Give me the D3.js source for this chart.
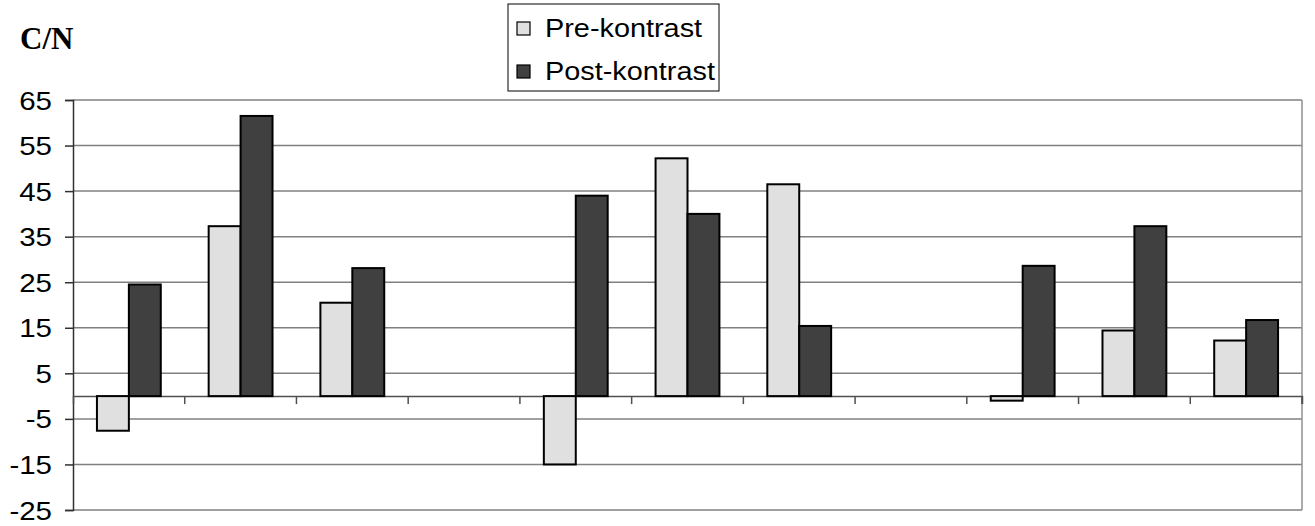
<!DOCTYPE html>
<html><head><meta charset="utf-8">
<script src="https://cdn.jsdelivr.net/npm/d3@7"></script>
<style>html,body{margin:0;padding:0;background:#fff;}svg{display:block;}</style>
</head><body>
<svg id="chart" width="1315" height="526"></svg>
<script>
const categories = ["1","2","3","4","5","6","7","8","9","10","11"];
const seriesNames = ["Pre-kontrast","Post-kontrast"];
const preValues  = [-7.6, 37.3, 20.5, null, -15.0, 52.2, 46.5, null, -1.0, 14.4, 12.2];
const postValues = [24.5, 61.5, 28.1, null, 44.0, 40.0, 15.4, null, 28.6, 37.3, 16.7];
const yTicks = [-25,-15,-5,5,15,25,35,45,55,65];
const yTitle = "C/N";

const colors = ["#e0e0e0","#404040"];
const svg = d3.select("#chart");
const L = 73, R = 1302, T = 100, B = 510;

const y = d3.scaleLinear().domain([-25,65]).range([B,T]);
const x = d3.scaleBand().domain(categories).range([L,R]).paddingInner(0).paddingOuter(0);
const xs = d3.scaleBand().domain(seriesNames).range([0,x.bandwidth()]).paddingInner(0).paddingOuter(0.75);

// gridlines
svg.append("g").selectAll("line").data(yTicks).join("line")
  .attr("x1",L).attr("x2",R).attr("y1",d=>y(d)).attr("y2",d=>y(d))
  .attr("stroke","#808080").attr("stroke-width",1.5);

// right border
svg.append("line").attr("x1",R).attr("x2",R).attr("y1",T).attr("y2",B)
  .attr("stroke","#909090").attr("stroke-width",1.5);

// y axis
const yAxis = d3.axisLeft(y).tickValues(yTicks).tickSize(8).tickPadding(13).tickFormat(d=>String(d));
const gy = svg.append("g").attr("transform",`translate(${L},0)`).call(yAxis);
gy.select(".domain").attr("stroke","#303030").attr("stroke-width",1.5);
gy.selectAll(".tick line").attr("stroke","#303030").attr("stroke-width",1.5);
gy.selectAll(".tick text")
  .attr("font-family","Liberation Sans, Arial, sans-serif")
  .attr("font-size",25).attr("fill","#000")
  .attr("dy","0.36em")
  .each(function(){
    const t=d3.select(this); const xx=+t.attr("x");
    t.attr("transform",`translate(${xx},0) scale(1.18,1) translate(${-xx},0)`);
  });

// zero axis with category ticks
const xAxis = d3.axisBottom(x).tickSize(8).tickFormat("");
const gx = svg.append("g").attr("transform",`translate(0,${y(0)})`).call(xAxis);
gx.select(".domain").attr("stroke","#505050").attr("stroke-width",1.5);
gx.selectAll(".tick").remove();
const boundaries = categories.map((c,i)=> x(c)+x.bandwidth()).slice(0,-1);
gx.selectAll("line.ct").data(boundaries).join("line").attr("class","ct")
  .attr("x1",d=>d).attr("x2",d=>d).attr("y1",0).attr("y2",8)
  .attr("stroke","#505050").attr("stroke-width",1.5);
gx.append("line").attr("x1",R).attr("x2",R).attr("y1",0).attr("y2",8)
  .attr("stroke","#505050").attr("stroke-width",1.5);

// bars
const rows = categories.map((c,i)=>({cat:c, vals:[preValues[i],postValues[i]]}));
const g = svg.append("g");
rows.forEach(r=>{
  r.vals.forEach((v,j)=>{
    if(v==null) return;
    g.append("rect")
      .attr("x", x(r.cat)+xs(seriesNames[j]))
      .attr("width", xs.bandwidth())
      .attr("y", y(Math.max(0,v)))
      .attr("height", Math.abs(y(v)-y(0)))
      .attr("fill", colors[j]).attr("stroke","#000").attr("stroke-width",2);
  });
});

// y title
svg.append("text").attr("x",20).attr("y",49).text(yTitle)
  .attr("font-family","Liberation Serif, Times New Roman, serif")
  .attr("font-weight","bold").attr("font-size",31).attr("fill","#000");

// legend
const lg = svg.append("g");
lg.append("rect").attr("x",508).attr("y",4).attr("width",211).attr("height",87)
  .attr("fill","#fff").attr("stroke","#000").attr("stroke-width",1);
const rowBase = [37, 80];
seriesNames.forEach((n,i)=>{
  const b = rowBase[i];
  lg.append("rect").attr("x",517).attr("y",b-15).attr("width",13).attr("height",13)
    .attr("fill",colors[i]).attr("stroke","#000").attr("stroke-width",1.2);
  lg.append("text").attr("x",545).attr("y",b).text(n)
    .attr("font-family","Liberation Sans, Arial, sans-serif")
    .attr("font-size",26).attr("fill","#000")
    .attr("transform",`translate(545,0) scale(1.11,1) translate(-545,0)`);
});
</script>
</body></html>
